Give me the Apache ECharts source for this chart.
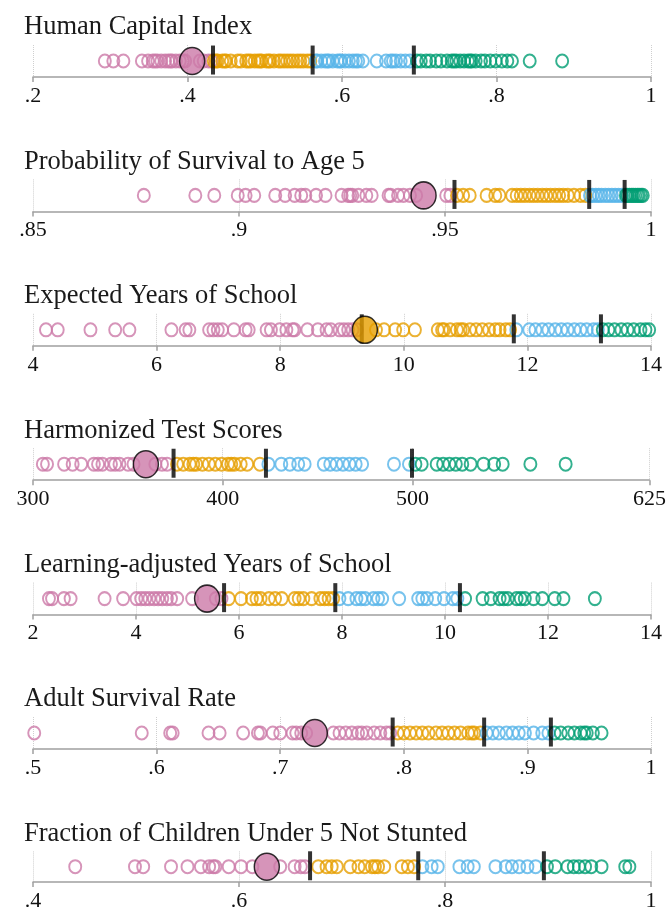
<!DOCTYPE html>
<html>
<head>
<meta charset="utf-8">
<script src="https://cdn.jsdelivr.net/npm/echarts@6/dist/echarts.min.js"></script>
<style>
  html, body { margin: 0; padding: 0; background: #fff; }
  #chart { width: 669px; height: 912px; }
</style>
</head>
<body>
<div id="chart"></div>
<script>
// quartile group colours (lowest -> highest)
const groupColors = ['#CC79A7', '#E69F00', '#56B4E9', '#009E73']

// Human Capital Index
const hciQ1 = [0.293, 0.304, 0.317, 0.341, 0.349, 0.355, 0.358, 0.361, 0.366, 0.371, 0.375, 0.378, 0.380, 0.385, 0.390, 0.394, 0.397, 0.416, 0.421, 0.427, 0.431]
const hciQ2 = [0.434, 0.437, 0.439, 0.445, 0.448, 0.450, 0.456, 0.465, 0.469, 0.476, 0.479, 0.482, 0.487, 0.491, 0.494, 0.496, 0.502, 0.505, 0.507, 0.512, 0.518, 0.521, 0.525, 0.529, 0.533, 0.537, 0.542, 0.546, 0.550, 0.555, 0.559]
const hciQ3 = [0.566, 0.568, 0.573, 0.578, 0.581, 0.583, 0.588, 0.594, 0.597, 0.599, 0.604, 0.609, 0.614, 0.618, 0.621, 0.627, 0.645, 0.657, 0.663, 0.666, 0.670, 0.676, 0.682, 0.688]
const hciQ4 = [0.697, 0.702, 0.709, 0.714, 0.722, 0.728, 0.736, 0.742, 0.745, 0.748, 0.753, 0.758, 0.763, 0.766, 0.768, 0.773, 0.780, 0.785, 0.792, 0.799, 0.807, 0.814, 0.820, 0.843, 0.885]
const hciCuts = [0.433, 0.562, 0.693]
const hciMark = 0.406
const hciTicks = [0.2, 0.4, 0.6, 0.8, 1]

// Probability of Survival to Age 5
const s5Q1 = [0.8769, 0.8894, 0.8940, 0.8997, 0.9016, 0.9037, 0.9088, 0.9112, 0.9135, 0.9151, 0.9161, 0.9187, 0.9210, 0.9249, 0.9265, 0.9270, 0.9275, 0.9290, 0.9309, 0.9322, 0.9363, 0.9368, 0.9386, 0.9399, 0.9415, 0.9430, 0.9503, 0.9513]
const s5Q2 = [0.9529, 0.9544, 0.9560, 0.9601, 0.9622, 0.9632, 0.9663, 0.9674, 0.9684, 0.9694, 0.9705, 0.9715, 0.9725, 0.9736, 0.9746, 0.9756, 0.9767, 0.9777, 0.9787, 0.9798, 0.9813, 0.9829, 0.9841]
const s5Q3 = [0.9852, 0.9858, 0.9866, 0.9873, 0.9880, 0.9889, 0.9897, 0.9905, 0.9913, 0.9921, 0.9929]
const s5Q4 = [0.9939, 0.9943, 0.9948, 0.9953, 0.9957, 0.9962, 0.9967, 0.9971, 0.9976, 0.9980]
const s5Cuts = [0.9523, 0.9850, 0.9936]
const s5Mark = 0.9448
const s5Ticks = [0.85, 0.9, 0.95, 1]

// Expected Years of School
const eysQ1 = [4.21, 4.40, 4.93, 5.33, 5.56, 6.24, 6.47, 6.53, 6.85, 6.92, 6.99, 7.06, 7.25, 7.44, 7.49, 7.78, 7.85, 7.99, 8.10, 8.20, 8.23, 8.44, 8.61, 8.75, 8.82, 8.96, 9.03, 9.10, 9.17, 9.24]
const eysQ2 = [9.55, 9.68, 9.86, 9.99, 10.18, 10.55, 10.62, 10.65, 10.75, 10.86, 10.92, 10.96, 11.07, 11.17, 11.27, 11.38, 11.48, 11.55, 11.65, 11.72]
const eysQ3 = [11.82, 12.03, 12.13, 12.24, 12.34, 12.45, 12.55, 12.65, 12.76, 12.86, 12.96, 13.07, 13.14]
const eysQ4 = [13.22, 13.31, 13.41, 13.52, 13.62, 13.72, 13.83, 13.91, 13.97]
const eysCuts = [9.32, 11.78, 13.19]
const eysMark = 9.37
const eysTicks = [4, 6, 8, 10, 12, 14]

// Harmonized Test Scores
const htsQ1 = [305.2, 307.4, 316.4, 320.9, 325.4, 332.1, 334.3, 336.6, 341.1, 343.3, 345.6, 350.1, 353.0, 364.5, 368.0, 370.7]
const htsQ2 = [375.9, 379.2, 382.6, 384.5, 386.0, 389.3, 392.7, 396.1, 399.4, 402.8, 404.5, 406.2, 409.5, 412.9, 419.6]
const htsQ3 = [424.1, 430.9, 435.4, 439.8, 443.2, 453.3, 456.7, 460.0, 463.4, 466.8, 470.1, 473.5, 490.3, 498.2]
const htsQ4 = [501.6, 504.9, 512.8, 516.2, 519.5, 522.9, 526.3, 530.7, 537.5, 543.1, 547.6, 562.2, 580.8]
const htsCuts = [374.1, 422.8, 499.8]
const htsMark = 359.5
const htsTicks = [300, 400, 500, 625]

// Learning-adjusted Years of School
const laysQ1 = [2.31, 2.37, 2.60, 2.73, 3.39, 3.75, 4.01, 4.10, 4.18, 4.26, 4.35, 4.43, 4.51, 4.60, 4.68, 4.80, 5.09, 5.55, 5.66]
const laysQ2 = [5.80, 6.04, 6.25, 6.34, 6.42, 6.58, 6.70, 6.83, 7.08, 7.16, 7.25, 7.41, 7.58, 7.66, 7.74, 7.83]
const laysQ3 = [7.95, 8.12, 8.28, 8.37, 8.45, 8.61, 8.70, 8.78, 9.11, 9.48, 9.56, 9.65, 9.81, 9.98, 10.15, 10.24]
const laysQ4 = [10.39, 10.73, 10.89, 11.06, 11.14, 11.22, 11.39, 11.47, 11.55, 11.72, 11.89, 12.13, 12.30, 12.91]
const laysCuts = [5.71, 7.87, 10.29]
const laysMark = 5.38
const laysTicks = [2, 4, 6, 8, 10, 12, 14]

// Adult Survival Rate
const asrQ1 = [0.501, 0.588, 0.611, 0.613, 0.642, 0.651, 0.670, 0.682, 0.684, 0.694, 0.700, 0.710, 0.713, 0.717, 0.721, 0.743, 0.748, 0.753, 0.758, 0.763, 0.766, 0.770, 0.776, 0.781, 0.786, 0.789]
const asrQ2 = [0.795, 0.800, 0.805, 0.810, 0.815, 0.820, 0.826, 0.831, 0.836, 0.841, 0.846, 0.852, 0.855, 0.857, 0.862]
const asrQ3 = [0.867, 0.872, 0.877, 0.883, 0.888, 0.893, 0.898, 0.905, 0.912, 0.917]
const asrQ4 = [0.922, 0.927, 0.933, 0.938, 0.943, 0.946, 0.948, 0.953, 0.960]
const asrCuts = [0.791, 0.865, 0.919]
const asrMark = 0.728
const asrTicks = [0.5, 0.6, 0.7, 0.8, 0.9, 1]

// Fraction of Children Under 5 Not Stunted
const nsQ1 = [0.441, 0.499, 0.507, 0.534, 0.550, 0.563, 0.571, 0.575, 0.577, 0.590, 0.602, 0.613, 0.640, 0.654, 0.660, 0.664]
const nsQ2 = [0.677, 0.685, 0.690, 0.695, 0.708, 0.716, 0.722, 0.729, 0.732, 0.735, 0.741, 0.758, 0.764, 0.770]
const nsQ3 = [0.778, 0.787, 0.793, 0.814, 0.822, 0.828, 0.849, 0.859, 0.865, 0.872, 0.880, 0.888]
const nsQ4 = [0.899, 0.907, 0.919, 0.925, 0.930, 0.936, 0.942, 0.952, 0.975, 0.979]
const nsCuts = [0.669, 0.774, 0.896]
const nsMark = 0.627
const nsTicks = [0.4, 0.6, 0.8, 1]

const panels = [
  { title: 'Human Capital Index', groups: [hciQ1, hciQ2, hciQ3, hciQ4], cuts: hciCuts, mark: hciMark, markGroup: 0, ticks: hciTicks },
  { title: 'Probability of Survival to Age 5', groups: [s5Q1, s5Q2, s5Q3, s5Q4], cuts: s5Cuts, mark: s5Mark, markGroup: 0, ticks: s5Ticks },
  { title: 'Expected Years of School', groups: [eysQ1, eysQ2, eysQ3, eysQ4], cuts: eysCuts, mark: eysMark, markGroup: 1, ticks: eysTicks },
  { title: 'Harmonized Test Scores', groups: [htsQ1, htsQ2, htsQ3, htsQ4], cuts: htsCuts, mark: htsMark, markGroup: 0, ticks: htsTicks },
  { title: 'Learning-adjusted Years of School', groups: [laysQ1, laysQ2, laysQ3, laysQ4], cuts: laysCuts, mark: laysMark, markGroup: 0, ticks: laysTicks },
  { title: 'Adult Survival Rate', groups: [asrQ1, asrQ2, asrQ3, asrQ4], cuts: asrCuts, mark: asrMark, markGroup: 0, ticks: asrTicks },
  { title: 'Fraction of Children Under 5 Not Stunted', groups: [nsQ1, nsQ2, nsQ3, nsQ4], cuts: nsCuts, mark: nsMark, markGroup: 0, ticks: nsTicks }
]

const serif = 'Liberation Serif'
const chart = echarts.init(document.getElementById('chart'))

const grids = []
const xAxes = []
const yAxes = []
const titles = []
const series = []

// drop the leading zero like ".4"
const fmt = v => String(+Number(v).toFixed(4)).replace(/^0\./, '.')

panels.forEach((p, i) => {
  const axisY = 77 + i * 134.4
  grids.push({ left: 33, right: 18, top: axisY - 32, height: 32 })
  titles.push({
    text: p.title,
    left: 24,
    top: axisY - 63,
    padding: 0,
    textStyle: { fontFamily: serif, fontSize: 26.5, fontWeight: 'normal', color: '#1a1a1a' }
  })
  xAxes.push({
    type: 'value',
    gridIndex: i,
    min: p.ticks[0],
    max: p.ticks[p.ticks.length - 1],
    axisLine: { show: true, lineStyle: { color: '#a0a0a0', width: 1.5 } },
    axisTick: { show: true, customValues: p.ticks, length: 5, lineStyle: { color: '#a0a0a0', width: 1.5 } },
    axisLabel: {
      customValues: p.ticks,
      formatter: fmt,
      fontFamily: serif,
      fontSize: 22,
      color: '#111',
      margin: 8
    },
    splitLine: { show: true, lineStyle: { type: 'dotted', color: '#cfcfcf', width: 1 } }
  })
  yAxes.push({ type: 'value', gridIndex: i, min: 0, max: 1, show: false })

  p.groups.forEach((vals, g) => {
    series.push({
      type: 'scatter',
      xAxisIndex: i,
      yAxisIndex: i,
      silent: true,
      z: 2,
      symbol: 'circle',
      symbolSize: [12, 13],
      itemStyle: { color: 'rgba(255,255,255,0)', borderColor: groupColors[g], borderWidth: 2 },
      data: vals.map(v => [v, 0.5])
    })
  })
  // quartile cut-offs
  series.push({
    type: 'scatter',
    xAxisIndex: i,
    yAxisIndex: i,
    silent: true,
    z: 3,
    symbol: 'rect',
    symbolSize: [4, 29],
    itemStyle: { color: '#000' },
    data: p.cuts.map(v => [v, 0.53])
  })
  // highlighted country
  series.push({
    type: 'scatter',
    xAxisIndex: i,
    yAxisIndex: i,
    silent: true,
    z: 4,
    symbol: 'circle',
    symbolSize: [25, 27],
    itemStyle: { color: groupColors[p.markGroup], borderColor: '#000', borderWidth: 1.5 },
    data: [[p.mark, 0.5]]
  })
})

chart.setOption({
  animation: false,
  backgroundColor: '#fff',
  title: titles,
  grid: grids,
  xAxis: xAxes,
  yAxis: yAxes,
  series: series
})
</script>
</body>
</html>
